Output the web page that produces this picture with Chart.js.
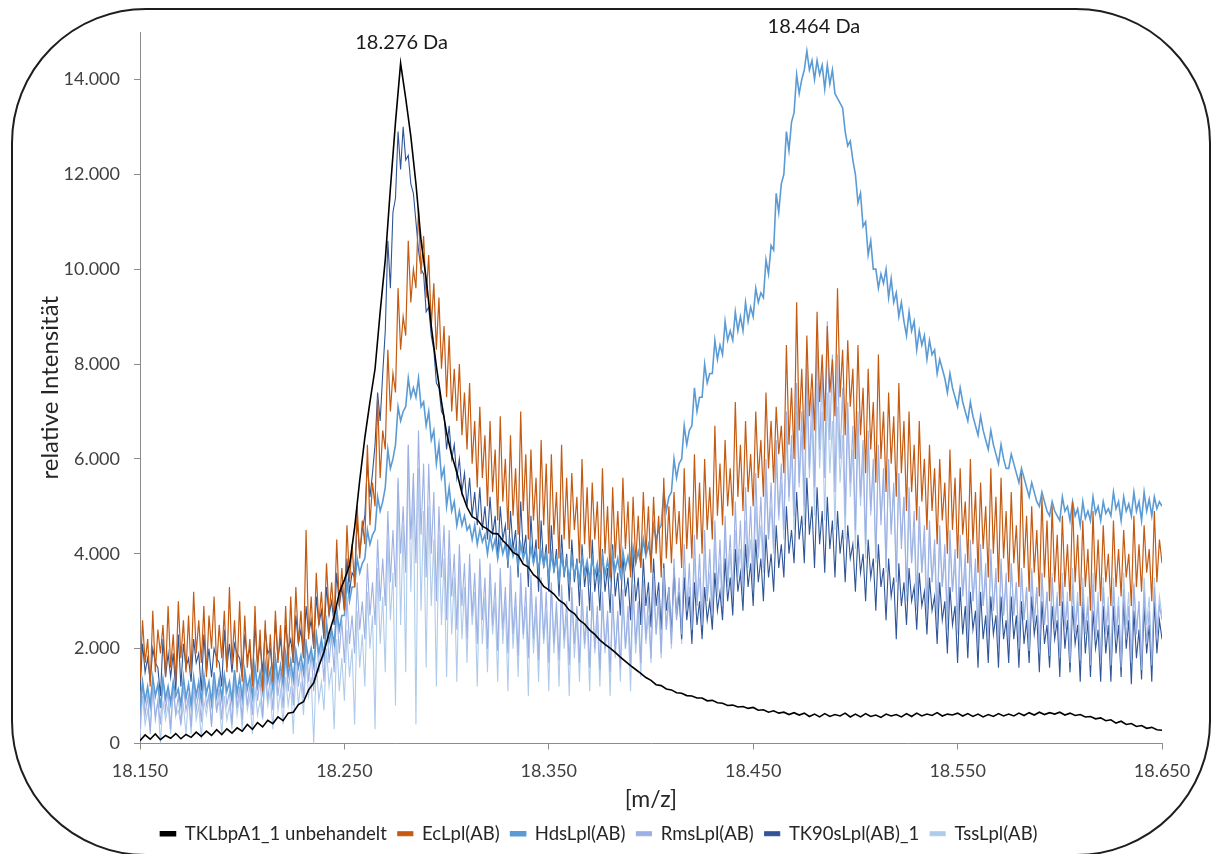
<!DOCTYPE html>
<html lang="de">
<head>
<meta charset="utf-8">
<title>Massenspektren</title>
<script src="https://cdn.jsdelivr.net/npm/chart.js@4.4.1/dist/chart.umd.min.js"></script>
<style>
    body { margin: 0; background: #fff; }
    #wrap { position: relative; width: 1218px; height: 854px; }
    #rahmen {
        position: absolute; left: 11px; top: 8px; width: 1200px; height: 848px;
        box-sizing: border-box; border: 2px solid #1e1e1e; border-radius: 135px;
        pointer-events: none;
    }
</style>
</head>
<body>
<div id="wrap">
    <canvas id="chartSpektren"></canvas>
    <div id="rahmen"></div>
</div>
<script>
// m/z grids: coarse (0.0025) for the smooth trace, fine (0.00125) for the noisy ones
const mzStart = 18.15
const mzGrob = Array.from({ length: 201 }, (_, i) => Number((mzStart + i * 0.0025).toFixed(5)))
const mzFein = Array.from({ length: 401 }, (_, i) => Number((mzStart + i * 0.00125).toFixed(5)))

const serien = ['TKLbpA1_1 unbehandelt', 'EcLpl(AB)', 'HdsLpl(AB)', 'RmsLpl(AB)', 'TK90sLpl(AB)_1', 'TssLpl(AB)']
const farben = ['#000000', '#C55A11', '#5B9BD5', '#9DB0E4', '#2F5597', '#AFCBEB']
const yTicks = [0, 2000, 4000, 6000, 8000, 10000, 12000, 14000]

// values
const tklbpa1 = [
    60,180,90,200,80,170,110,210,100,190,
    130,240,150,260,170,290,190,310,220,330,
    260,400,300,440,350,490,420,560,480,640,
    660,820,880,1130,1280,1630,1930,2330,2680,3180,
    3450,3750,4550,5550,6450,7200,7900,9100,10200,11700,
    13100,14340,13600,12800,11800,10600,9800,8800,7950,7200,
    6550,6080,5720,5280,4980,4780,4720,4580,4520,4430,
    4420,4280,4170,4030,3970,3780,3720,3560,3470,3310,
    3240,3150,3020,2950,2810,2740,2600,2520,2390,2300,
    2180,2090,2010,1920,1820,1730,1640,1560,1480,1390,
    1330,1240,1220,1150,1130,1070,1060,1010,1000,960,
    960,900,910,860,850,800,810,770,780,740,
    760,700,710,660,690,640,660,610,650,600,
    640,570,620,560,630,570,610,580,640,560,
    620,560,630,570,600,550,620,580,610,560,
    630,570,640,580,620,590,650,580,620,600,
    640,580,630,570,620,560,610,570,630,580,
    620,580,640,590,650,600,660,610,650,620,
    660,600,640,590,610,560,570,520,540,480,
    500,430,470,400,420,360,380,320,340,290,
    280
]

const ecLpl = [
    1300,2600,1700,2200,1200,2800,1500,2400,1900,2500,1400,2900,1600,2300,1300,3000,1800,2600,1500,2700,
    1500,3200,1900,2600,1700,2900,1400,2700,2000,3100,1600,2500,1800,2800,1500,3300,1700,2600,1500,3000,
    1300,2700,1600,2200,1200,2900,1500,2400,1100,2600,1400,2300,1300,2800,1700,2500,1400,2900,1600,3100,
    1700,3300,2100,2800,1800,4500,2200,3100,2000,3600,2500,3200,2300,3800,2700,3400,2600,4300,2900,3700,
    2800,4600,3400,4200,3300,5000,3900,4700,4200,6300,4600,5500,5000,7300,5600,6600,6200,8300,7000,7800,
    7400,9600,8300,9000,8600,10600,9300,10000,9600,11300,9900,10700,9400,10300,8800,9700,8300,9400,7900,8800,
    7300,8600,7000,7900,6800,8000,6500,7400,6200,7600,5900,6800,5400,7100,5600,6500,5000,6800,5300,6200,
    4700,6900,5100,6000,4500,6500,4800,5800,4400,7000,4900,6100,4300,6200,4700,5600,4100,6400,4600,5900,
    4000,6100,4400,5300,3900,6300,4300,5600,4100,5700,4500,5200,3800,6000,4200,5400,3900,5500,4300,5100,
    3600,5800,4000,5000,3500,5400,3900,4900,3700,5600,4100,5100,3500,5200,3800,4800,3700,5300,4000,5000,
    3600,5200,4000,4800,3500,5600,3900,5000,3800,5300,4200,4900,3700,5800,4100,5200,3900,6100,4300,5500,
    4000,6000,4500,5400,4300,6700,4800,5900,4600,6400,5000,5800,4800,7200,5200,6300,4900,6800,5300,6100,
    5000,7000,5600,6400,5200,7400,5800,6800,5500,7100,6100,6700,5700,8400,6300,7500,6000,9300,6600,7900,
    6200,8600,6900,7800,6600,9100,7200,8200,6800,8800,7400,8100,6900,9600,7300,8300,6500,8500,7100,7900,
    6000,8400,6500,7500,5700,7900,6200,7200,5500,8200,6000,7000,5300,7400,5900,6900,5200,7600,5700,6800,
    4900,7000,5300,6300,4700,6800,5100,6000,4500,6300,4900,5800,4200,6000,4700,5500,4000,6200,4500,5600,
    3900,5800,4400,5100,3800,6000,4200,5300,3600,5500,4100,5000,3500,5800,4000,5200,3400,5600,3900,4900,
    3400,5300,3800,4600,3300,5700,3700,4800,3200,5000,3600,4500,3100,5200,3500,4700,3000,5000,3400,4400,
    2900,4800,3300,4200,3000,5100,3400,4400,2900,4700,3300,4100,2800,4900,3200,4300,3000,4600,3400,4000,
    2900,4700,3300,4100,3100,4500,3500,4000,2900,4800,3300,4200,3200,4600,3600,4100,3000,4900,3400,4300,
    3800
]

const hdsLpl = [
    700,1300,900,1200,800,1400,1000,1250,750,1350,950,1200,850,1300,1000,1150,800,1400,950,1250,
    800,1400,1000,1300,900,1450,1050,1300,850,1500,1000,1350,950,1450,1100,1300,900,1550,1050,1400,
    950,1550,1150,1400,1000,1650,1200,1500,1100,1700,1300,1550,1150,1800,1350,1650,1250,1900,1450,1750,
    1350,1950,1600,1850,1500,2100,1750,2000,1650,2300,1900,2200,1850,2500,2150,2400,2100,2800,2400,2700,
    2700,3400,3000,3300,3300,3900,3600,3800,3900,4500,4200,4400,4500,5200,4900,5100,5400,6200,5800,6000,
    6300,7100,6800,7000,7100,7700,7300,7500,7300,7700,7100,7200,6700,7000,6400,6600,5900,6300,5600,5800,
    5000,5400,4900,5100,4600,4900,4600,4800,4500,4600,4300,4600,4200,4500,4250,4400,4000,4400,4100,4300,
    3900,4300,4000,4200,3850,4250,3950,4150,3750,4200,3900,4100,3700,4150,3800,4050,3650,4050,3750,4000,
    3500,4000,3650,3900,3450,3950,3600,3850,3450,3900,3550,3800,3400,3950,3600,3850,3450,3900,3550,3800,
    3400,3950,3550,3850,3500,4000,3650,3900,3550,4050,3700,3950,3650,4150,3800,4050,3800,4300,3950,4200,
    3900,4600,4300,4500,4600,5300,4900,5200,5300,6000,5600,5900,6000,6700,6300,6600,6700,7500,7000,7300,
    7300,8000,7600,7800,7800,8500,8100,8400,8200,8900,8500,8700,8500,9100,8700,9000,8700,9300,8900,9200,
    9000,9600,9300,9500,9400,10200,9900,10500,10400,11600,11200,11800,12000,12900,12500,13100,13300,14100,13700,14000,
    14200,14600,14200,14400,14000,14400,14100,14300,13800,14300,13900,14200,13700,13600,13500,13400,12900,12600,12700,12300,
    12000,11400,11600,10900,11000,10300,10600,10000,10000,9600,9900,9700,10000,9400,9800,9300,9500,9000,9300,8900,
    8600,9100,8700,8900,8300,8700,8400,8600,8100,8500,8200,8300,7800,8100,7900,7700,7400,7800,7500,7300,
    7100,7500,7200,7000,6800,7200,6900,6700,6500,6900,6600,6400,6200,6600,6300,6100,5900,6300,6000,5800,
    5800,6100,5900,5700,5500,5800,5600,5400,5200,5500,5300,5100,5000,5300,5100,4900,4800,5100,4900,4800,
    4700,5200,4900,5000,4700,5100,4800,4950,4600,5100,4750,4900,4700,5200,4850,5000,4700,5100,4850,4950,
    4800,5300,4950,5100,4700,5200,4900,5050,4800,5300,4900,5100,4700,5300,4900,5150,4800,5200,4950,5100,
    5000
]

const rmsLpl = [
    300,1300,600,1000,200,1200,500,900,400,1400,700,1100,300,1300,600,1000,400,1200,700,1000,
    350,1350,700,1100,450,1400,800,1050,350,1300,650,1150,500,1450,800,1100,400,1500,750,1200,
    500,1500,800,1250,600,1650,900,1350,550,1700,900,1400,700,1800,1000,1500,750,1900,1100,1600,
    800,2000,1200,1700,950,2200,1300,1900,1100,2400,1500,2100,1300,2700,1700,2300,1500,2900,1900,2600,
    1700,3100,2100,2700,1900,3400,2400,3000,2200,3800,2700,3400,2500,4300,3000,3900,2900,4900,3400,4500,
    3300,5600,4000,5000,3600,6300,4300,5700,3800,6600,4400,5900,3500,5900,4000,5300,3000,5000,3500,4600,
    2600,4500,3100,4000,2400,4200,2900,3800,2200,4000,2700,3600,2100,3900,2600,3500,2000,3800,2500,3400,
    1950,3700,2400,3300,1900,3750,2300,3200,1850,3600,2300,3300,1800,3550,2200,3100,1750,3500,2200,3200,
    1700,3400,2100,3000,1750,3350,2200,3000,1650,3300,2100,2900,1700,3250,2100,2900,1600,3200,2000,2900,
    1550,3200,2000,2800,1500,3150,1900,2800,1600,3250,2000,2900,1650,3350,2100,3000,1700,3450,2200,3100,
    1800,3600,2300,3200,1900,3700,2400,3300,2100,3900,2600,3500,2300,4200,2800,3800,2400,4400,2900,4000,
    2500,4500,3000,4100,2700,4700,3200,4300,2900,4800,3400,4400,3100,5100,3600,4700,3300,5400,3800,5000,
    3500,5700,4100,5200,3700,6000,4300,5500,4100,6400,4800,5900,4500,7000,5200,6500,4800,7600,5500,7000,
    5000,8000,5800,7400,5400,8500,6200,7900,5600,8900,6400,8200,5300,8200,6000,7500,4800,7200,5500,6700,
    4500,7000,5200,6400,4200,6600,4900,6000,3900,6300,4600,5800,3700,6000,4400,5500,3400,5700,4100,5200,
    3200,5400,3800,4900,3000,5000,3600,4600,2800,4700,3400,4300,2700,4600,3300,4200,2600,4500,3200,4100,
    2500,4400,3100,4000,2400,4300,3000,3900,2300,4200,2900,3800,2200,4100,2800,3700,2100,3900,2700,3600,
    2100,3800,2700,3400,2000,3700,2600,3300,1950,3650,2500,3300,1900,3600,2500,3200,1850,3500,2400,3100,
    1800,3400,2400,3000,1700,3350,2300,3000,1750,3300,2300,2900,1650,3350,2200,3000,1700,3300,2300,2900,
    1650,3300,2200,2900,1600,3250,2200,2900,1700,3350,2300,3000,1550,3200,2100,2800,1650,3300,2200,2900,
    2600
]

const tk90sLpl = [
    1100,2100,1500,1800,1300,2000,1700,1600,1000,2200,1400,1900,1400,1900,1100,2300,1200,2100,1600,1800,
    1300,2200,1700,1900,1100,2300,1500,2000,1400,2000,1800,1700,1200,2400,1600,2100,1500,2100,1900,1800,
    1400,2300,1800,2000,1300,2500,1700,2100,1500,2400,1900,2000,1400,2600,1800,2200,1600,2500,2000,2200,
    1700,2700,2100,2400,1800,2900,2300,2600,2000,3100,2500,2800,2200,3300,2700,3000,2500,3600,2900,3300,
    2800,3900,3200,3600,3500,4700,4000,4500,4800,5900,5200,5700,6300,7400,6800,7800,8700,10600,9600,11200,
    11500,12900,12100,13000,12300,12400,11800,11600,11000,10400,10000,9900,9100,9200,8600,8300,7600,7500,7000,6900,
    6200,6700,6000,6300,5600,6000,5300,5700,5000,5600,4800,5300,4600,5400,4500,5000,4300,5200,4400,4800,
    3900,5000,4300,4600,3700,4900,4100,4500,3500,5100,4000,4400,3300,4800,3800,4300,3200,4700,3700,4200,
    3200,4600,3600,4100,3100,4400,3500,4000,3000,4300,3400,3900,2900,4200,3300,3800,2800,4300,3200,3700,
    2800,4100,3200,3700,2750,4200,3100,3600,2700,4000,3100,3500,2600,4000,3000,3500,2500,3900,2900,3400,
    2450,3900,2900,3400,2400,3800,2800,3300,2300,3700,2700,3200,2200,3500,2600,3100,2100,3400,2500,3000,
    2200,3300,2600,3000,2400,3600,2800,3200,2600,3900,3000,3500,2700,4100,3200,3600,2800,4200,3300,3800,
    2900,4300,3400,3900,3000,4400,3500,4000,3200,4600,3700,4200,3500,5000,4000,4500,3800,5300,4300,4800,
    3800,5600,4400,5000,3700,5400,4200,4900,3600,5200,4100,4700,3500,4900,4000,4500,3400,4600,3900,4200,
    3200,4400,3600,4000,3000,4300,3500,3900,2800,4200,3300,3700,2600,3900,3100,3500,2200,3800,2900,3400,
    2500,3700,3000,3300,2400,3600,2900,3200,2300,3500,2800,3100,2100,3400,2600,3000,1900,3300,2500,2900,
    1700,3300,2300,2900,1800,3200,2400,2800,1600,3200,2200,2700,1700,3100,2300,2700,1600,3100,2200,2600,
    1700,3100,2200,2700,1600,3000,2100,2600,1700,3100,2300,2700,1500,3000,2100,2500,1600,2900,2200,2600,
    1400,3000,2000,2600,1500,2900,2100,2500,1300,3000,1900,2600,1400,2800,2000,2400,1300,2900,1900,2500,
    1300,2900,1900,2500,1400,3000,2000,2600,1250,2800,1800,2400,1350,2900,1900,2500,1300,3000,1900,2600,
    2200
]

const tssLpl = [
    100,1000,400,700,300,1200,600,900,0,900,500,800,200,1100,600,700,400,800,200,1000,
    200,1100,500,800,100,900,600,1000,400,1200,700,900,200,1000,500,800,300,1300,600,1000,
    300,1300,700,1000,200,1200,600,900,500,1400,800,1100,300,1500,700,1100,400,1400,800,1200,
    200,1600,800,1300,600,1800,1000,1400,0,1700,900,1300,700,2000,1200,1600,300,2200,1100,1800,
    900,2400,1400,2000,400,2800,1600,2300,1200,3200,2000,2700,300,3700,2100,3100,1500,4300,2600,3600,
    800,5500,2500,4600,1500,6300,3200,5400,400,5800,2800,4900,1600,5000,2900,4300,1200,4400,2500,3900,
    1400,4000,2300,3500,1300,3800,2200,3300,1700,3700,2500,3200,1200,3600,2100,3100,1500,3500,2300,3000,
    1300,3500,2100,3000,1100,3400,2000,2900,1400,3300,2200,2900,1000,3400,1900,2800,1300,3200,2100,2800,
    1100,3300,1900,2800,1200,3200,2000,2700,1000,3100,1800,2700,1300,3000,2000,2600,1100,3100,1900,2600,
    1200,3000,1900,2600,1000,3100,1800,2700,1300,3000,2000,2600,1100,3200,1900,2700,1400,3100,2100,2700,
    1700,3300,2300,2900,1800,3400,2400,3000,2000,3500,2600,3100,2100,3700,2700,3300,2300,3900,2900,3500,
    2400,4000,3000,3600,2500,4200,3100,3800,2700,4400,3300,4000,2900,4500,3500,4100,3100,4700,3700,4300,
    3300,5000,3900,4600,3600,5500,4300,5000,4000,6000,4700,5500,4300,6600,5100,6100,4500,7000,5400,6500,
    4600,7300,5600,6800,4800,7600,5800,7000,4700,7400,5700,6800,4500,7100,5500,6500,4300,6800,5200,6200,
    4100,6500,5000,6000,3900,6300,4800,5800,3800,6100,4700,5600,3600,5900,4500,5400,3500,5700,4300,5200,
    3000,4900,3800,4500,2800,4600,3600,4200,2600,4400,3400,4000,2500,4300,3300,3900,2400,4200,3200,3800,
    2300,4100,3100,3700,2200,4000,3000,3600,2100,4000,2900,3500,2000,3900,2800,3500,2000,3800,2700,3400,
    1900,3800,2700,3400,1900,3700,2600,3300,1800,3700,2600,3300,1800,3600,2500,3200,1700,3600,2500,3200,
    1700,3600,2500,3200,1600,3700,2500,3200,1700,3500,2400,3100,1600,3600,2400,3200,1700,3500,2400,3100,
    1600,3500,2400,3100,1700,3600,2500,3200,1600,3400,2400,3000,1700,3500,2500,3100,1600,3500,2400,3100,
    2700
]

const werte = [tklbpa1, ecLpl, hdsLpl, rmsLpl, tk90sLpl, tssLpl]
const gitter = [mzGrob, mzFein, mzFein, mzFein, mzFein, mzFein]
const linien = [1.6, 1.2, 1.6, 1.1, 1.1, 1.1]

// peak labels
const peakTexte = ['18.276 Da', '18.464 Da']
const peakMz = [18.278, 18.4797]
const peakHoehe = [14780, 15120]

function tausender(v) {
    return String(v).replace(/\B(?=(\d{3})+(?!\d))/g, '.')
}

const peakLabels = {
    id: 'peakLabels',
    afterDatasetsDraw(chart) {
        const ctx = chart.ctx
        ctx.save()
        ctx.fillStyle = '#1a1a1a'
        ctx.font = '20px Lato, "Open Sans", sans-serif'
        ctx.textAlign = 'center'
        ctx.textBaseline = 'middle'
        for (let i = 0; i < peakTexte.length; i++) {
            const px = chart.scales.x.getPixelForValue(peakMz[i])
            const py = chart.scales.y.getPixelForValue(peakHoehe[i])
            ctx.fillText(peakTexte[i], px, py)
        }
        ctx.restore()
    }
}

document.addEventListener("DOMContentLoaded", () => {
    Chart.defaults.font.family = 'Lato, "Open Sans", sans-serif'

    const ctxSpektren = document.getElementById('chartSpektren')

    const datasets = serien.map((nome, s) => ({
        label: nome,
        data: gitter[s].map((x, i) => ({ x: x, y: werte[s][i] })),
        borderColor: farben[s],
        backgroundColor: farben[s],
        borderWidth: linien[s],
        pointRadius: 0,
        tension: 0,
        fill: false
    }))

    const chartSpektren = new Chart(ctxSpektren, {
        type: 'line',
        data: { datasets: datasets },
        plugins: [peakLabels],
        options: {
            responsive: true,
            maintainAspectRatio: false,
            animation: false,
            events: [],
            layout: {
                padding: { left: 36, right: 56, top: 32, bottom: 1 }
            },
            plugins: {
                legend: {
                    position: 'bottom',
                    labels: {
                        boxWidth: 15,
                        boxHeight: 4,
                        padding: 11,
                        color: '#262626',
                        font: { size: 18.5 }
                    }
                },
                tooltip: { enabled: false }
            },
            scales: {
                x: {
                    type: 'linear',
                    min: 18.15,
                    max: 18.65,
                    afterFit: (s) => { s.height = 70; s.paddingLeft = 0; s.paddingRight = 0 },
                    border: { color: '#8c8c8c' },
                    grid: { drawOnChartArea: false, tickLength: 6, color: '#8c8c8c' },
                    ticks: {
                        stepSize: 0.1,
                        padding: 11,
                        color: '#404040',
                        font: { size: 18 },
                        maxRotation: 0,
                        callback: (v) => Number(v).toFixed(3)
                    },
                    title: {
                        display: true,
                        text: '[m/z]',
                        color: '#262626',
                        font: { size: 23 },
                        padding: 0
                    }
                },
                y: {
                    min: 0,
                    max: 15000,
                    afterFit: (s) => { s.width = 104; s.paddingTop = 0; s.paddingBottom = 0 },
                    afterBuildTicks: (s) => { s.ticks = yTicks.map((v) => ({ value: v })) },
                    border: { color: '#8c8c8c' },
                    grid: { drawOnChartArea: false, tickLength: 6, color: '#8c8c8c' },
                    ticks: {
                        padding: 14,
                        color: '#404040',
                        font: { size: 18 },
                        callback: (v) => tausender(v)
                    },
                    title: {
                        display: true,
                        text: 'relative Intensität',
                        color: '#262626',
                        font: { size: 24 },
                        padding: 0
                    }
                }
            }
        }
    })
})
</script>
</body>
</html>
